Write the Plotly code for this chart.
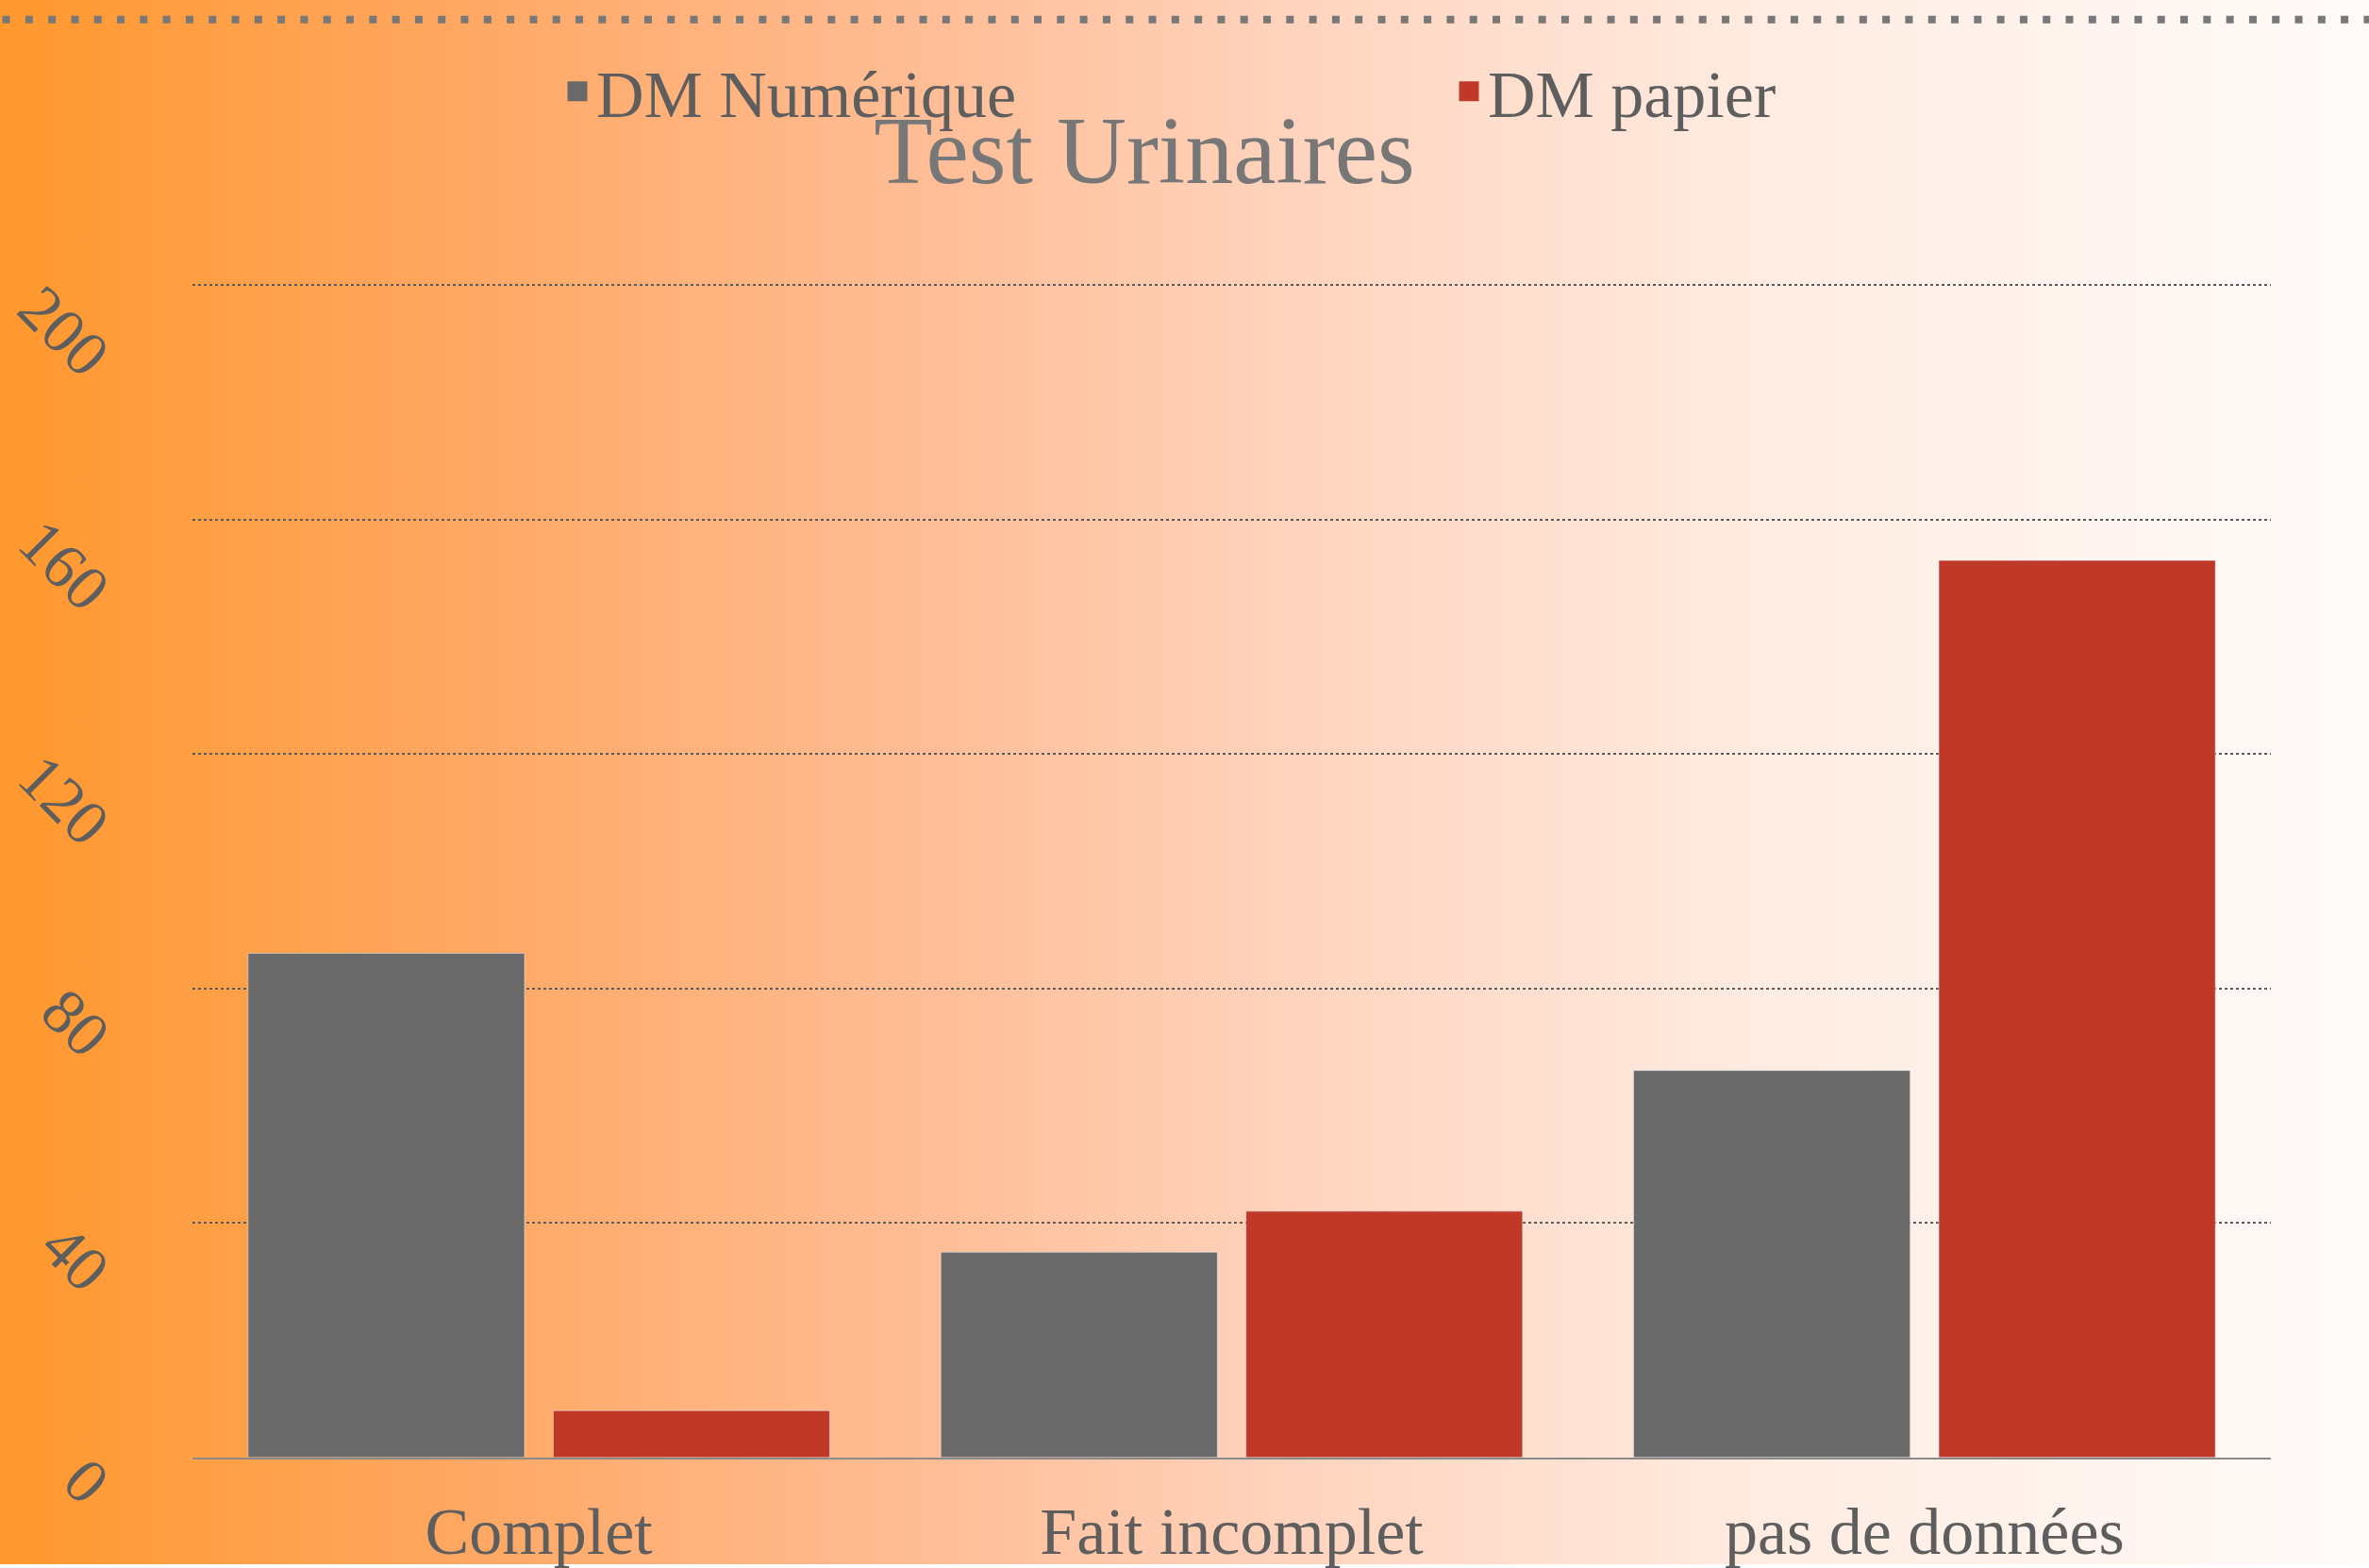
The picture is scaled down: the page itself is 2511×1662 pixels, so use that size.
import plotly.graph_objects as go

W, H = 2511, 1662

categories = ["Complet", "Fait incomplet", "pas de données"]
dm_numerique = [86, 35, 66]
dm_papier = [8, 42, 153]
y_ticks = [0, 40, 80, 120, 160, 200]
series_names = ["DM Numérique", "DM papier"]

FONT = "Liberation Serif"
TXT = "#5e5e5e"
GRAY = "#696969"
RED = "#BF3828"
colors = [GRAY, RED]

fig = go.Figure()

# gradient background on a full-page hidden subplot
fig.add_trace(go.Scatter(
    x=[0, 1, 1, 0, 0], y=[0, 0, 1, 1, 0], xaxis="x", yaxis="y",
    mode="lines", line=dict(width=0), fill="toself",
    fillgradient=dict(type="horizontal",
                      colorscale=[[0, "rgb(255,152,45)"], [0.2, "rgb(255,168,100)"],
                                  [0.4, "rgb(255,190,152)"], [0.55, "rgb(255,212,190)"],
                                  [0.75, "rgb(255,236,226)"], [1, "rgb(255,251,249)"]]),
    hoverinfo="skip", showlegend=False))

for name, vals, col in zip(series_names, [dm_numerique, dm_papier], colors):
    fig.add_trace(go.Bar(x=categories, y=vals, name=name, legendgroup=name,
                         showlegend=False, marker=dict(color=col),
                         xaxis="x2", yaxis="y2"))

# legend entries (larger square swatches)
for name, col in zip(series_names, colors):
    fig.add_trace(go.Scatter(x=[None], y=[None], name=name, legendgroup=name,
                             mode="markers", xaxis="x2", yaxis="y2",
                             marker=dict(symbol="square", size=16, color=col,
                                         line=dict(color=col, width=5)),
                             hoverinfo="skip"))

YMAX = 200.6
px_per_unit = (1548.6 - 302.7) / 200
x0, x1 = 204 / W, 2407 / W
y0 = (H - 1548.6) / H
y1 = (H - (1548.6 - YMAX * px_per_unit)) / H

annotations = []
for v in y_ticks:
    annotations.append(dict(
        x=134 / W, xref="paper", xanchor="right",
        y=v, yref="y2", yanchor="top", yshift=17,
        text=str(v), textangle=45, showarrow=False,
        font=dict(family=FONT, size=68, color=TXT)))

fig.update_layout(
    width=W, height=H, autosize=False,
    margin=dict(l=0, r=0, t=0, b=0, pad=0),
    paper_bgcolor="white", plot_bgcolor="rgba(0,0,0,0)",
    barmode="group", bargap=0.119, bargroupgap=0.094,
    title=dict(text="Test Urinaires", x=1213 / W, y=1 - 158 / H,
               xanchor="center", yanchor="middle",
               font=dict(family=FONT, size=102, color="#777777")),
    legend=dict(orientation="h", x=592 / W, xanchor="left",
                y=1 - 97 / H, yanchor="middle",
                font=dict(family=FONT, size=70, color=TXT),
                entrywidth=900, entrywidthmode="pixels",
                bgcolor="rgba(0,0,0,0)", traceorder="normal"),
    xaxis=dict(domain=[0, 1], range=[0, 1], visible=False, fixedrange=True),
    yaxis=dict(domain=[0, 1], range=[0, 1], visible=False, fixedrange=True),
    xaxis2=dict(domain=[x0, x1], anchor="y2", showgrid=False,
                showline=True, linecolor="#8a8a8a", linewidth=2,
                tickfont=dict(family=FONT, size=70, color=TXT),
                ticks="", ticklabelstandoff=16),
    yaxis2=dict(domain=[y0, y1], anchor="x2", range=[0, YMAX],
                tickvals=y_ticks, showticklabels=False,
                showgrid=True, gridcolor="#5a5a5a", gridwidth=2, griddash="dot",
                zeroline=False, showline=False),
    annotations=annotations,
    shapes=[dict(type="line", xref="paper", yref="paper", x0=0.001, x1=1,
                 y0=1 - 20.7 / H, y1=1 - 20.7 / H,
                 line=dict(color="#787878", width=8, dash="8px,16.3px"))],
)

post = ("document.documentElement.style.margin='0';"
        "document.documentElement.style.overflow='hidden';"
        "document.body.style.margin='0';document.body.style.padding='0';"
        "document.body.style.overflow='hidden';"
        "var d=document.getElementById('{plot_id}');"
        "d.style.position='fixed';d.style.left='0px';d.style.top='0px';")

fig.write_html("out.html",
               config={"displayModeBar": False, "responsive": False},
               post_script=post)
